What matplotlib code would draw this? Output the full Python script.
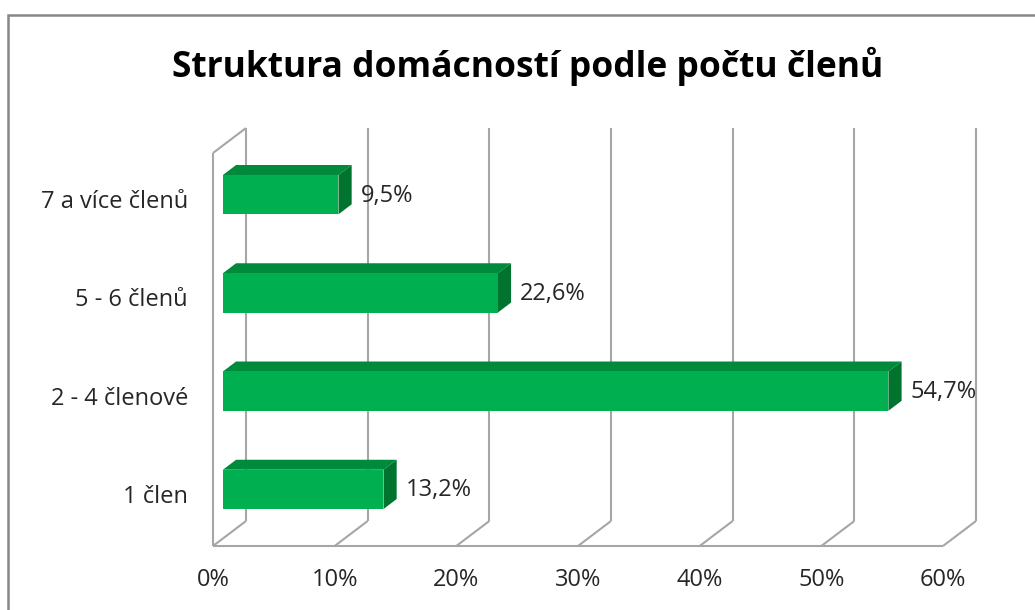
import matplotlib
matplotlib.use("Agg")
import matplotlib.pyplot as plt
from matplotlib.patches import Polygon, Rectangle

# ---- data ----
categories = ["1 člen", "2 - 4 členové", "5 - 6 členů", "7 a více členů"]
values = [13.2, 54.7, 22.6, 9.5]
value_labels = ["13,2%", "54,7%", "22,6%", "9,5%"]
xticks = [0, 10, 20, 30, 40, 50, 60]
xtick_labels = ["0%", "10%", "20%", "30%", "40%", "50%", "60%"]
title = "Struktura domácností podle počtu členů"

# ---- style ----
FONT = "Open Sans"
GRID = "#a6a6a6"
C_FRONT = "#00b050"
C_TOP = "#008a3c"
C_SIDE = "#00742f"
TXT = "#262626"
FS = 17

W, H = 1035, 610
fig = plt.figure(figsize=(W / 100, H / 100), dpi=100)

# outer chart border
fig.patches.append(Rectangle((8 / W, -0.1), 1.2, 1 - 15 / H + 0.1,
                             transform=fig.transFigure, fill=False,
                             edgecolor="#878787", linewidth=1.8))

# axes: front plane x 0..60, y -0.5..3.5
ax = fig.add_axes([213 / W, (H - 546) / H, 730 / W, 393 / H])
ax.set_xlim(0, 60)
ax.set_ylim(-0.5, 3.5)
ax.axis("off")

XMAX = 60
YLO, YHI = -0.5, 3.5
DX = 2.71   # depth offset along x (data units)
DY = 0.254  # depth offset along y (data units)
lw = 1.5
kw = dict(color=GRID, lw=lw, clip_on=False, solid_capstyle="butt", zorder=1)

# back wall vertical gridlines
for t in xticks:
    ax.plot([t + DX, t + DX], [YLO + DY, YHI + DY], **kw)
    # floor diagonals
    ax.plot([t, t + DX], [YLO, YLO + DY], **kw)
# floor front edge
ax.plot([0, XMAX], [YLO, YLO], **kw)
# side wall (left)
ax.plot([0, 0], [YLO, YHI], **kw)
ax.plot([0, DX], [YHI, YHI + DY], **kw)

# bars
f, b = 0.3, 0.7
hh = 0.2
for i, v in enumerate(values):
    yc = i
    x0f, x1f = f * DX, v + f * DX
    x0b, x1b = b * DX, v + b * DX
    ylf, yhf = yc + f * DY - hh, yc + f * DY + hh
    ylb, yhb = yc + b * DY - hh, yc + b * DY + hh
    ax.add_patch(Polygon([(x0f, yhf), (x1f, yhf), (x1b, yhb), (x0b, yhb)],
                         closed=True, facecolor=C_TOP, edgecolor="none",
                         clip_on=False, zorder=3))
    ax.add_patch(Polygon([(x1f, ylf), (x1f, yhf), (x1b, yhb), (x1b, ylb)],
                         closed=True, facecolor=C_SIDE, edgecolor="none",
                         clip_on=False, zorder=3))
    ax.add_patch(Rectangle((x0f, ylf), v, 2 * hh, facecolor=C_FRONT,
                           edgecolor="none", clip_on=False, zorder=4))
    ax.annotate(value_labels[i], xy=(x1b, yc + f * DY), xytext=(9, -1),
                textcoords="offset pixels", ha="left", va="center",
                fontsize=FS, family=FONT, color=TXT, zorder=5,
                annotation_clip=False)

# category labels
for i, c in enumerate(categories):
    ax.annotate(c, xy=(0, i), xytext=(-25, 0), textcoords="offset pixels",
                ha="right", va="center", fontsize=FS, family=FONT,
                color=TXT, annotation_clip=False)

# x tick labels
for t, lab in zip(xticks, xtick_labels):
    ax.annotate(lab, xy=(t, YLO), xytext=(0, -34), textcoords="offset pixels",
                ha="center", va="center", fontsize=FS, family=FONT,
                color=TXT, annotation_clip=False)

fig.text(528 / W, 1 - 66 / H, title, ha="center", va="center",
         fontsize=25.5, fontweight="bold", family=FONT, color="black")

fig.savefig("out.png", dpi=100)
